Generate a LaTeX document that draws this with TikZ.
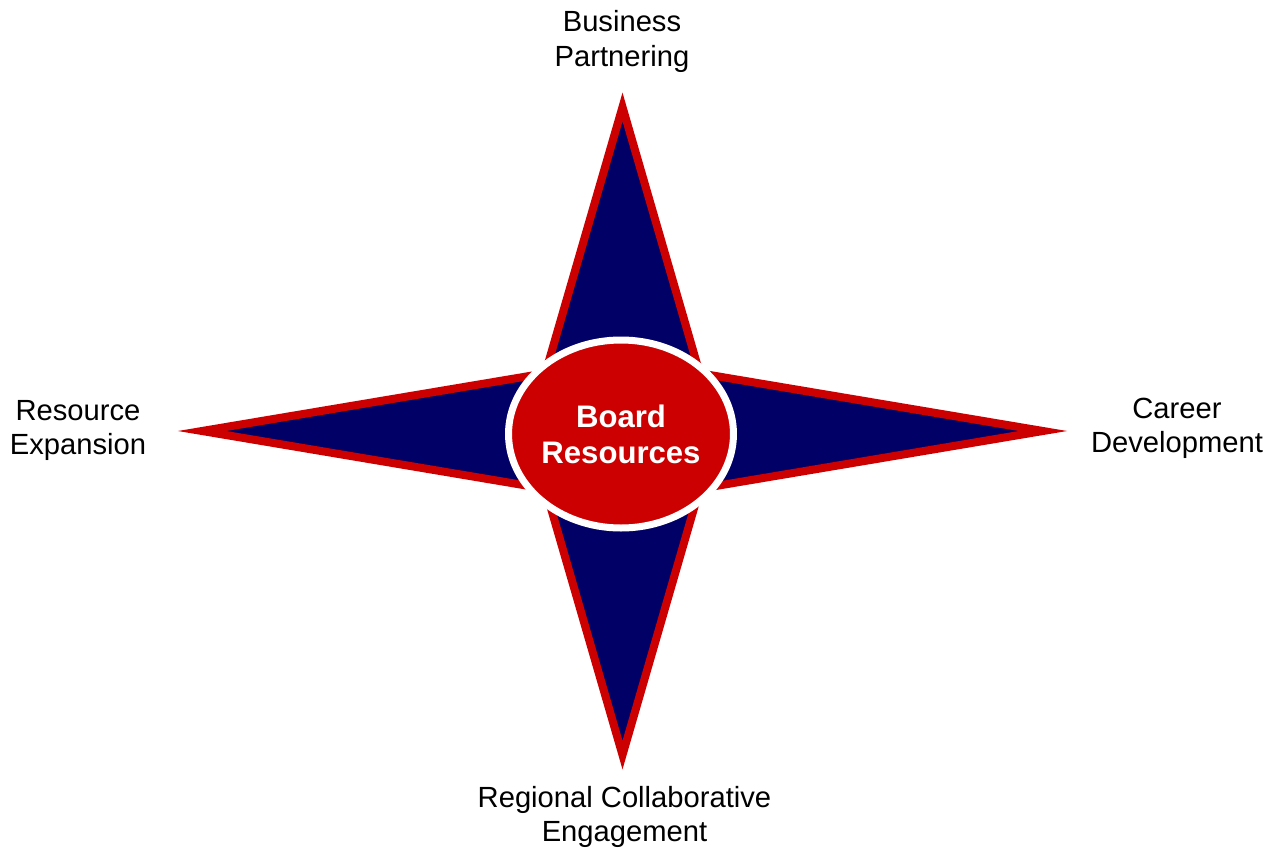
\documentclass[tikz,border=0pt]{standalone}
\usepackage{fontspec}
\setmainfont{Liberation Sans}
\usetikzlibrary{positioning, calc, shapes.geometric}
\definecolor{navy}{RGB}{0,0,102}
\definecolor{boardred}{RGB}{204,0,0}

\begin{document}
\begin{tikzpicture}[x=0.2mm, y=-0.2mm,
    star/.style={fill=navy, draw=boardred, line width=1.6mm, line join=miter},
    hub/.style={ellipse, fill=boardred, draw=white, line width=1.4mm,
        minimum width=43.2mm, minimum height=37.6mm, inner sep=0pt,
        text=white, align=center, font=\fontsize{17.7}{20.5}\selectfont\bfseries},
    armlabel/.style={align=center, anchor=base, inner sep=0pt,
        font=\fontsize{16.6}{19.35}\selectfont}]
    \useasboundingbox (0,0) rectangle (1277,848);

    \coordinate (top) at (622.5,107);
    \coordinate (right) at (1043,431);
    \coordinate (bottom) at (622.5,755);
    \coordinate (left) at (202,431);
    \coordinate (ne) at (699.7,373.3);
    \coordinate (se) at (699.7,488.7);
    \coordinate (sw) at (545.3,488.7);
    \coordinate (nw) at (545.3,373.3);

    \draw[star] (top) -- (ne) -- (right) -- (se) -- (bottom) -- (sw) -- (left) -- (nw) -- cycle;

    \node[hub] (board) at (621,434) {Board\\Resources};

    \node[armlabel] (partnering) at (622,66) {Business\\Partnering};
    \node[armlabel] (expansion) at (78,454) {Resource\\Expansion};
    \node[armlabel] (career) at (1177,452) {Career\\Development};
    \node[armlabel] (regional) at (624.5,841) {Regional Collaborative\\Engagement};
\end{tikzpicture}
\end{document}
